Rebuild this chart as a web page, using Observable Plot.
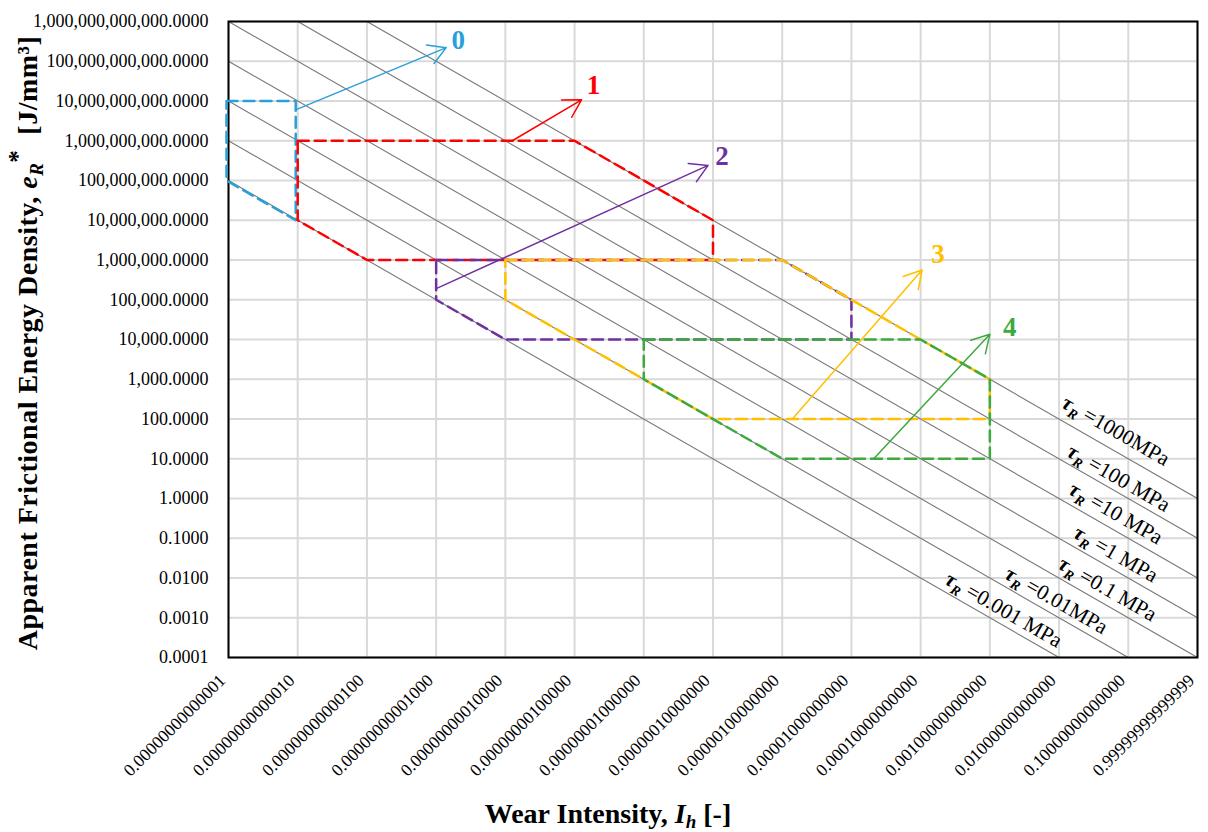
<!DOCTYPE html>
<html>
<head>
<meta charset="utf-8">
<script src="https://cdn.jsdelivr.net/npm/d3@7"></script>
<script src="https://cdn.jsdelivr.net/npm/@observablehq/plot@0.6"></script>
<style>
  html, body { margin: 0; padding: 0; background: #fff; }
  #chart svg { display: block; }
</style>
</head>
<body>
<div id="chart"></div>
<script>
// ---- Axis ticks --------------------------------------------------------
const xTicks = [1e-14, 1e-13, 1e-12, 1e-11, 1e-10, 1e-9, 1e-8, 1e-7, 1e-6, 1e-5, 1e-4, 1e-3, 1e-2, 1e-1, 1];
const xTickLabels = [
  "0.00000000000001", "0.00000000000010", "0.00000000000100", "0.00000000001000",
  "0.00000000010000", "0.00000000100000", "0.00000001000000", "0.00000010000000",
  "0.00000100000000", "0.00001000000000", "0.00010000000000", "0.00100000000000",
  "0.01000000000000", "0.10000000000000", "0.99999999999999"
];
const yTicks = [1e-4, 1e-3, 1e-2, 1e-1, 1, 1e1, 1e2, 1e3, 1e4, 1e5, 1e6, 1e7, 1e8, 1e9, 1e10, 1e11, 1e12];
const yTickLabels = [
  "0.0001", "0.0010", "0.0100", "0.1000", "1.0000", "10.0000", "100.0000", "1,000.0000",
  "10,000.0000", "100,000.0000", "1,000,000.0000", "10,000,000.0000", "100,000,000.0000",
  "1,000,000,000.0000", "10,000,000,000.0000", "100,000,000,000.0000", "1,000,000,000,000.0000"
];

// ---- Constant-shear-stress lines (start / end points) ------------------
const tauNames = ["1000MPa", "100 MPa", "10 MPa", "1 MPa", "0.1 MPa", "0.01MPa", "0.001 MPa"];
const tauStartI = [1e-12, 1e-13, 1e-14, 1e-14, 1e-14, 1e-14, 1e-14];
const tauStartE = [1e12, 1e12, 1e12, 1e11, 1e10, 1e9, 1e8];
const tauEndI   = [1, 1, 1, 1, 1, 1e-1, 1e-2];
const tauEndE   = [1, 1e-1, 1e-2, 1e-3, 1e-4, 1e-4, 1e-4];

// ---- Regions (closed outlines, [wear intensity, energy density]) -------
const region0 = [[1e-14, 1e10], [1e-13, 1e10], [1e-13, 1e7], [1e-14, 1e8], [1e-14, 1e10]];
const region1 = [[1e-13, 1e9], [1e-9, 1e9], [1e-7, 1e7], [1e-7, 1e6], [1e-12, 1e6], [1e-13, 1e7], [1e-13, 1e9]];
const region2 = [[1e-11, 1e6], [1e-6, 1e6], [1e-5, 1e5], [1e-5, 1e4], [1e-10, 1e4], [1e-11, 1e5], [1e-11, 1e6]];
const region3 = [[1e-10, 1e6], [1e-6, 1e6], [1e-3, 1e3], [1e-3, 1e2], [1e-7, 1e2], [1e-10, 1e5], [1e-10, 1e6]];
const region4 = [[1e-8, 1e4], [1e-4, 1e4], [1e-3, 1e3], [1e-3, 1e1], [1e-6, 1e1], [1e-8, 1e3], [1e-8, 1e4]];

// ---- Trend arrows ------------------------------------------------------
const arrowIds = ["0", "1", "2", "3", "4"];
const arrowFromI = [9.3e-14, 1.26e-10, 1e-11, 1.4e-6, 2.1e-5];
const arrowFromE = [6.0e9, 1e9, 1.9e5, 100, 10];
const arrowToI   = [1.4e-11, 1.26e-9, 8.5e-8, 1.05e-4, 1e-3];
const arrowToE   = [2.2e11, 1.07e10, 2.4e8, 5.6e5, 1.35e4];

// ---- Styling -----------------------------------------------------------
const colors = ["#29A0DA", "#FF0000", "#7030A0", "#FFC000", "#3DAA3D"];
const fontFamily = '"Liberation Serif", "Times New Roman", serif';

const regions = [region0, region1, region2, region3, region4].map((pts, k) =>
  pts.map(([I, e]) => ({I, e, k}))
);
const tauLines = tauNames.map((name, i) => ({
  name, x1: tauStartI[i], y1: tauStartE[i], x2: tauEndI[i], y2: tauEndE[i],
  k: tauStartI[i] * tauStartE[i]
}));
const arrows = arrowIds.map((id, i) => ({
  id, x1: arrowFromI[i], y1: arrowFromE[i], x2: arrowToI[i], y2: arrowToE[i]
}));

// where each shear-stress label sits along its line, and its lift above it
const tauLabelAt = [
  {x: 10 ** -1.18, dy: -21}, {x: 10 ** -1.14, dy: -15}, {x: 10 ** -1.18, dy: -18},
  {x: 10 ** -1.18, dy: -17}, {x: 10 ** -1.30, dy: -17}, {x: 10 ** -2.04, dy: -16},
  {x: 10 ** -2.80, dy: -16}
];
// offsets of the region numbers from their arrow tips
const idOffsets = [[12, -7], [12, -14], [14, -9], [16, -16], [20, -7]];

const fmtIndex = (ticks, labels) => (d) => {
  const j = ticks.findIndex((t) => Math.abs(Math.log10(t) - Math.log10(d)) < 1e-6);
  return j < 0 ? "" : labels[j];
};

const plot = Plot.plot({
  width: 1208,
  height: 832,
  marginLeft: 228,
  marginRight: 11,
  marginTop: 21,
  marginBottom: 175,
  style: {fontFamily, background: "#fff", color: "#000"},
  x: {type: "log", domain: [1e-14, 1]},
  y: {type: "log", domain: [1e-4, 1e12]},
  marks: [
    Plot.gridX(xTicks, {stroke: "#d9d9d9", strokeOpacity: 1, strokeWidth: 2}),
    Plot.gridY(yTicks, {stroke: "#d9d9d9", strokeOpacity: 1, strokeWidth: 2}),
    Plot.link(tauLines, {x1: "x1", y1: "y1", x2: "x2", y2: "y2", stroke: "#777", strokeWidth: 1.1}),
    Plot.frame({stroke: "#000", strokeWidth: 2}),
    ...tauLines.map((t, i) =>
      Plot.text([t], {
        x: () => tauLabelAt[i].x,
        y: (d) => d.k / tauLabelAt[i].x,
        text: (d) => "τR =" + d.name,
        rotate: 29.8,
        dy: tauLabelAt[i].dy,
        fontSize: 21.5,
        fill: "#000",
        textAnchor: "middle",
        lineAnchor: "middle"
      })
    ),
    ...regions.map((r, k) =>
      Plot.line(r, {
        x: "I", y: "e", stroke: colors[k], strokeWidth: 2.5,
        strokeDasharray: "11,6", strokeLinejoin: "round", curve: "linear",
        dx: k === 0 ? -2 : 0
      })
    ),
    ...arrows.map((a, k) =>
      Plot.arrow([a], {x1: "x1", y1: "y1", x2: "x2", y2: "y2", stroke: colors[k], strokeWidth: 1.5, headLength: 20, headAngle: 60})
    ),
    ...arrows.map((a, k) =>
      Plot.text([a], {
        x: "x2", y: "y2", text: "id",
        fill: colors[k], fontSize: 27, fontWeight: "bold",
        dx: idOffsets[k][0], dy: idOffsets[k][1],
        textAnchor: "middle", lineAnchor: "middle"
      })
    ),
    Plot.axisX(xTicks, {
      tickSize: 0, tickPadding: 20, tickRotate: -45, fontSize: 17.5, dx: -6,
      tickFormat: fmtIndex(xTicks, xTickLabels), label: null
    }),
    Plot.axisY(yTicks, {
      tickSize: 0, tickPadding: 20, fontSize: 18,
      tickFormat: fmtIndex(yTicks, yTickLabels), label: null
    })
  ]
});

document.getElementById("chart").appendChild(plot);

const svg = d3.select(plot);

// shear-stress labels: bold-italic τ with subscript R
svg.selectAll("text")
  .filter(function () { return this.textContent.startsWith("τR ="); })
  .each(function () {
    const rest = this.textContent.slice(2);
    const t = d3.select(this);
    t.text(null);
    t.append("tspan").attr("font-weight", "bold").attr("font-style", "italic").text("τ");
    t.append("tspan").attr("font-weight", "bold").attr("font-style", "italic")
      .attr("font-size", 14).attr("dy", 5).text("R");
    t.append("tspan").attr("dy", -5).text(rest);
  });

// axis titles
const yTitle = svg.append("text")
  .attr("transform", "translate(37,343) rotate(-90)")
  .attr("text-anchor", "middle")
  .attr("font-family", fontFamily)
  .attr("font-size", 28)
  .attr("letter-spacing", 0.5)
  .attr("font-weight", "bold")
  .attr("fill", "#000");
yTitle.append("tspan").text("Apparent Frictional Energy Density, ");
yTitle.append("tspan").attr("font-style", "italic").text("e");
yTitle.append("tspan").attr("font-style", "italic").attr("font-size", 19).attr("dy", 6).text("R");
yTitle.append("tspan").attr("font-size", 25).attr("dy", -17).text("*");
yTitle.append("tspan").attr("dy", 11).text("\u00a0\u00a0[J/mm³]");

const xTitle = svg.append("text")
  .attr("transform", "translate(608,823)")
  .attr("text-anchor", "middle")
  .attr("font-family", fontFamily)
  .attr("font-size", 28)
  .attr("font-weight", "bold")
  .attr("fill", "#000");
xTitle.append("tspan").text("Wear Intensity, ");
xTitle.append("tspan").attr("font-style", "italic").text("I");
xTitle.append("tspan").attr("font-style", "italic").attr("font-size", 19).attr("dy", 5).text("h");
xTitle.append("tspan").attr("dy", -5).text(" [-]");
</script>
</body>
</html>
